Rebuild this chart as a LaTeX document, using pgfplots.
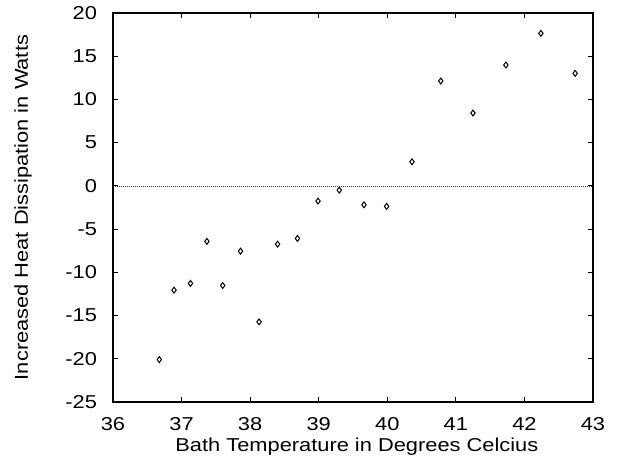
\documentclass[border=0pt]{standalone}
\usepackage{fontspec}
\setmainfont[FakeStretch=1.17]{Liberation Sans}
\usepackage{pgfplots}
\pgfplotsset{compat=1.18}
\begin{document}
\begin{tikzpicture}
\begin{axis}[
  name=ax,
  scale only axis,
  width=360pt, height=291.75pt,
  xmin=36, xmax=43, ymin=-25, ymax=20,
  xtick={36,37,...,43}, ytick={-25,-20,...,20},
  tick align=inside, major tick length=3.5pt,
  tick style={black, line width=0.6pt},
  axis line style={black, line width=0.9pt},
  every tick label/.append style={font=\fontsize{14}{16}\selectfont},
  /pgf/number format/assume math mode=true,
  xticklabel style={anchor=base, yshift=-21pt},
  yticklabel style={xshift=-8.5pt},
  xlabel={Bath Temperature in Degrees Celcius},
  ylabel={Increased Heat Dissipation in Watts},
  label style={font=\fontsize{14}{16}\selectfont},
  xlabel style={at={(axis description cs:0.508,-0.126)}, anchor=base},
  ylabel style={at={(axis description cs:-0.1875,0.5)}, anchor=center},
  clip=false,
]
\addplot[black!80, densely dotted, line width=0.5pt, forget plot] coordinates {(36,0) (43,0)};
\addplot[only marks, mark=diamond, mark size=2.2pt, mark options={black, line width=0.75pt, fill=white}] coordinates {
(36.675,-20.1)
(36.89,-12.06)
(37.13,-11.28)
(37.37,-6.42)
(37.60,-11.52)
(37.86,-7.55)
(38.13,-15.73)
(38.40,-6.74)
(38.69,-6.08)
(38.99,-1.76)
(39.30,-0.49)
(39.66,-2.19)
(39.99,-2.37)
(40.36,2.79)
(40.78,12.13)
(41.25,8.43)
(41.73,13.98)
(42.24,17.65)
(42.74,13.02)
};
\end{axis}
\pgfresetboundingbox
\path[use as bounding box] ([xshift=-84.75pt,yshift=-42pt]ax.south west) rectangle ([xshift=18pt,yshift=9.75pt]ax.north east);
\end{tikzpicture}
\end{document}
